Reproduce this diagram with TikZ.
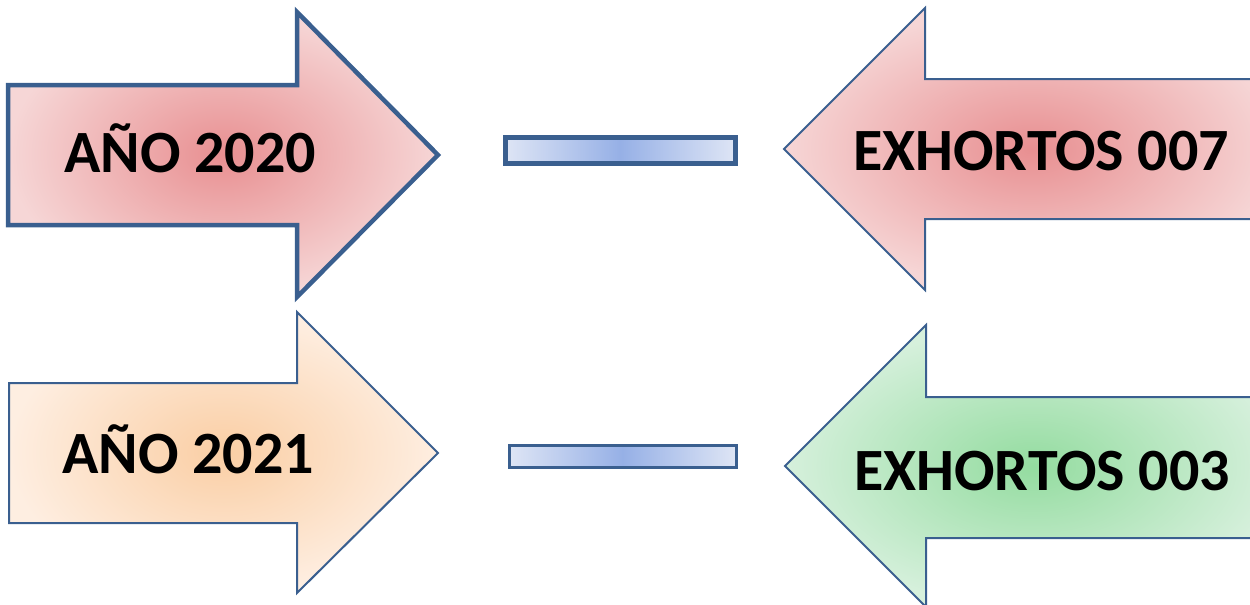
\documentclass[tikz,border=0pt]{standalone}
\usepackage{fontspec}
\setmainfont{Carlito}
\usepackage{tikz}
\usetikzlibrary{positioning}
\usetikzlibrary{shadings}
\definecolor{frameblue}{RGB}{58,95,143}
\definecolor{redin}{RGB}{232,143,145}
\definecolor{redout}{RGB}{246,214,214}
\definecolor{orangein}{RGB}{250,206,164}
\definecolor{orangeout}{RGB}{254,238,225}
\definecolor{greenin}{RGB}{148,220,160}
\definecolor{greenout}{RGB}{214,240,220}
\definecolor{barin}{RGB}{150,176,230}
\definecolor{barout}{RGB}{222,229,245}
\tikzstyle{bigarrow}=[shade,draw=frameblue,line join=miter]
\tikzstyle{redarrow}=[bigarrow,inner color=redin,outer color=redout]
\tikzstyle{orangearrow}=[bigarrow,inner color=orangein,outer color=orangeout]
\tikzstyle{greenarrow}=[bigarrow,inner color=greenin,outer color=greenout]
\tikzstyle{bar}=[shade,draw=frameblue,left color=barout,right color=barout,middle color=barin]
\tikzstyle{label}=[anchor=base,inner sep=0pt,font=\fontsize{30}{36}\selectfont\bfseries]

\begin{document}
\begin{tikzpicture}[x=0.5pt,y=-0.5pt]
  \useasboundingbox (0,0) rectangle (1250,605);
  \clip (0,0) rectangle (1250,605);

  % arrows pointing right
  \path[redarrow,line width=2.25pt] (8,85) -- (297,85) -- (297,12) -- (438,155) -- (297,297) -- (297,225) -- (8,225) -- cycle;
  \path[orangearrow,line width=1pt] (9,383) -- (297,383) -- (297,312) -- (438,453) -- (297,593) -- (297,523) -- (9,523) -- cycle;

  % arrows pointing left
  \path[redarrow,line width=1pt] (1280,79) -- (925,79) -- (925,8) -- (784,149) -- (925,290) -- (925,219) -- (1280,219) -- cycle;
  \path[greenarrow,line width=1pt] (1280,397) -- (926,397) -- (926,325) -- (785,466) -- (926,607) -- (926,538) -- (1280,538) -- cycle;

  % dashes in between
  \path[bar,line width=2.5pt] (505,137) rectangle (735,163);
  \path[bar,line width=1.5pt] (509,445) rectangle (736,467);

  \foreach \pos/\name/\text in {{(190,172)/t2020/AÑO 2020}, {(188,473)/t2021/AÑO 2021}, {(1041,170)/t007/EXHORTOS 007}, {(1042,490)/t003/EXHORTOS 003}}
        \node[label] (\name) at \pos {\text};

\end{tikzpicture}
\end{document}
